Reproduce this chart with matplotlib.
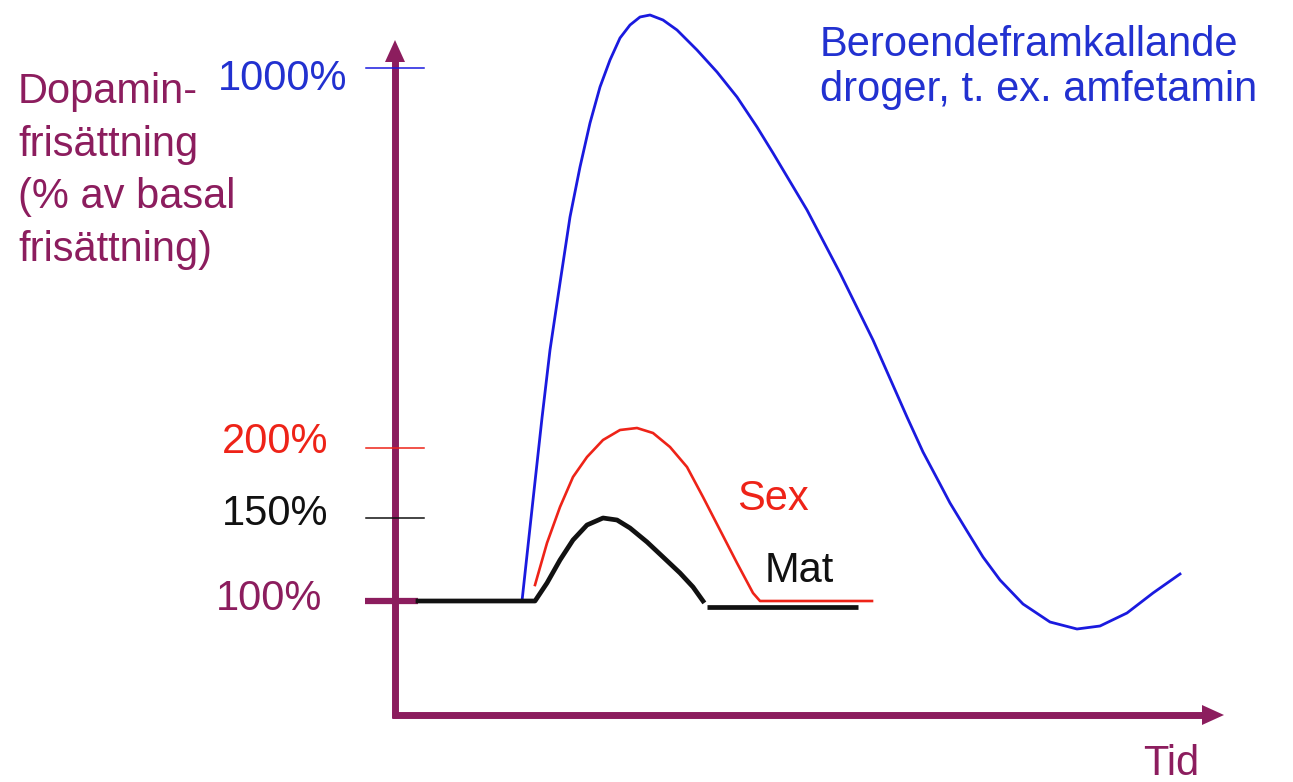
"""Dopamine release schematic: drugs vs sex vs food."""
import matplotlib
matplotlib.use("Agg")
import matplotlib.pyplot as plt

# Canvas coordinates (pixels, y grows downward).
blue_x = [522, 533, 542, 550, 560, 570, 580, 590, 600, 610, 620, 630, 640,
          650, 663, 677, 697, 717, 737, 757, 773, 807, 840, 873, 907, 923,
          940, 950, 967, 983, 1000, 1023, 1050, 1077, 1100, 1127, 1153, 1180]
blue_y = [601, 500, 418, 350, 283, 217, 167, 123, 87, 60, 38, 25, 17,
          15, 20, 30, 50, 72, 97, 127, 153, 210, 273, 340, 417, 452,
          484, 503, 531, 557, 580, 604, 622, 629, 626, 613, 593, 574]

red_x = [535, 547, 560, 573, 587, 603, 620, 637, 653, 670, 687, 703, 720,
         737, 753, 760, 872]
red_y = [585, 543, 507, 477, 457, 440, 430, 428, 433, 447, 467, 497, 530,
         563, 593, 601, 601]

mat_x = [418, 535, 547, 560, 573, 587, 603, 617, 630, 647, 663, 680, 693, 703]
mat_y = [601, 601, 583, 560, 540, 525, 518, 520, 528, 542, 557, 573, 587, 601]
mat_tail_x = [707, 858]
mat_tail_y = [607, 607]

tick_labels = ["1000%", "200%", "150%", "100%"]
tick_y = [68, 448, 518, 601]
tick_label_y = [90, 453, 525, 610]
tick_label_right = [347, 328, 328, 322]

PURPLE = "#8C1D5E"
BLUE = "#1A1ADF"
BLUE_TXT = "#2231D0"
RED = "#EE2318"
BLACK = "#111111"
tick_colors = [BLUE, RED, BLACK, PURPLE]
tick_text_colors = [BLUE_TXT, RED, BLACK, PURPLE]

plt.rcParams["font.family"] = ["Liberation Sans", "DejaVu Sans"]
FS = 30

fig = plt.figure(figsize=(12.93, 7.82), dpi=100)
ax = fig.add_axes([0, 0, 1, 1])
ax.set_xlim(0, 1293)
ax.set_ylim(782, 0)
ax.axis("off")

# axes with arrow heads
ax.plot([395, 395], [718, 60], color=PURPLE, lw=5, solid_capstyle="butt")
ax.plot([392, 1205], [715, 715], color=PURPLE, lw=5, solid_capstyle="butt")
ax.fill([385, 405, 395], [62, 62, 40], color=PURPLE, lw=0)
ax.fill([1202, 1202, 1224], [705, 725, 715], color=PURPLE, lw=0)

# level ticks
for y, c in zip(tick_y[:3], tick_colors[:3]):
    ax.plot([366, 424], [y, y], color=c, lw=1.1)
ax.plot([365, 418], [tick_y[3], tick_y[3]], color=PURPLE, lw=4.5,
        solid_capstyle="butt")

for lab, y, xr, c in zip(tick_labels, tick_label_y, tick_label_right,
                         tick_text_colors):
    ax.text(xr, y, lab, color=c, fontsize=FS, ha="right", va="baseline")

# curves
ax.plot(blue_x, blue_y, color=BLUE, lw=2.0, solid_joinstyle="round")
ax.plot(red_x, red_y, color=RED, lw=1.9, solid_joinstyle="round")
ax.plot(mat_x, mat_y, color=BLACK, lw=3.4, solid_joinstyle="round")
ax.plot(mat_tail_x, mat_tail_y, color=BLACK, lw=3.4, solid_capstyle="butt")

# labels (multi-line, anchored at top of box)
ax.text(18, 72, "Dopamin-\nfrisättning\n(% av basal\nfrisättning)",
        color=PURPLE, fontsize=FS, ha="left", va="top", linespacing=1.41)
ax.text(820, 25, "Beroendeframkallande\ndroger, t. ex. amfetamin",
        color=BLUE_TXT, fontsize=FS, ha="left", va="top", linespacing=1.15)
ax.text(737, 510, "Sex", color=RED, fontsize=FS, ha="left", va="baseline")
ax.text(765, 582, "Mat", color=BLACK, fontsize=FS, ha="left", va="baseline")
ax.text(1143, 775, "Tid", color=PURPLE, fontsize=FS, ha="left", va="baseline")

fig.savefig("out.png", dpi=100, facecolor="white")
plt.close(fig)
